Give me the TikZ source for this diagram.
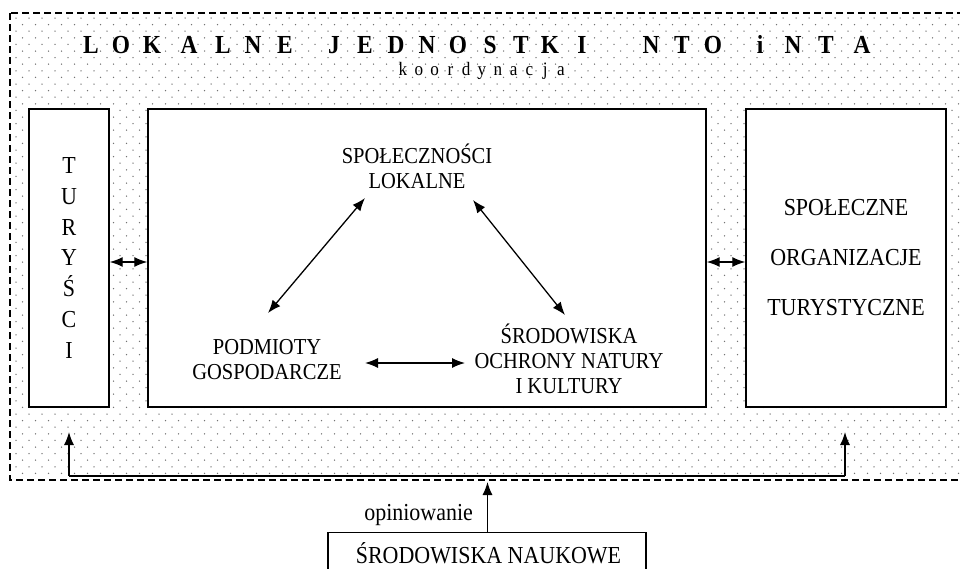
\documentclass[tikz,border=0pt]{standalone}
\usepackage{fontspec}
\setmainfont{Liberation Serif}
\newfontfamily\tallfont[FakeStretch=0.9]{Liberation Serif}
\usetikzlibrary{arrows.meta}
\begin{document}
\begin{tikzpicture}[x=1pt,y=-1pt,
  box/.style={draw,line width=1.4pt,fill=white},
  txt/.style={font=\tallfont\fontsize{24.4}{30}\selectfont,align=center,inner sep=0pt},
  tri/.style={font=\tallfont\fontsize{22.8}{25}\selectfont,align=center,inner sep=0pt},
  ttl/.style={font=\tallfont\fontsize{26}{26}\selectfont\bfseries,anchor=base,inner sep=0pt},
  sub/.style={font=\tallfont\fontsize{19}{19}\selectfont,anchor=base,inner sep=0pt},
  arr/.style={line width=1.3pt,-{Latex[length=13pt,width=10pt]}},
  darr/.style={line width=1.3pt,{Latex[length=13pt,width=10pt]}-{Latex[length=13pt,width=10pt]}},
]
\clip (0,0) rectangle (960,568);
% dotted background (staggered grid)
\foreach \j in {0,...,34}{
  \fill[black!55] \foreach \i in {0,...,72}{(16+13*\i,18+13.2*\j) circle (0.75)};
  \fill[black!55] \foreach \i in {0,...,72}{(22.5+13*\i,24.6+13.2*\j) circle (0.75)};
}
% dashed frame
\draw[line width=1.3pt,dash pattern=on 7pt off 4pt] (10,13) rectangle (966,480);
% title
\foreach \x/\c [count=\k] in {91/L,121/O,152/K,189/A,223/L,253/N,285/E,334/J,365/E,396/D,427/N,458/O,490/S,521/T,550/K,582/I,651/N,682/T,713/O,760/i,793/N,826/T,862/A}
  \node[ttl] (t\k) at (\x,53) {\c};
\foreach \x/\c [count=\k] in {403/k,418.8/o,434.6/o,450.4/r,466.2/d,482/y,497.8/n,513.6/a,529.4/c,545.2/j,561/a}
  \node[sub] (k\k) at (\x,75) {\c};
% boxes
\node[box,txt,minimum width=80pt,minimum height=298pt,font=\tallfont\fontsize{24.4}{30.7}\selectfont] (tur) at (69,258) {T\\U\\R\\Y\\Ś\\C\\I};
\node[box,minimum width=558pt,minimum height=298pt] (cen) at (427,258) {};
\node[box,txt,minimum width=200pt,minimum height=298pt,font=\tallfont\fontsize{24.4}{50}\selectfont] (rgt) at (846,258) {SPOŁECZNE\\ORGANIZACJE\\TURYSTYCZNE};
% triangle
\node[tri] (spo) at (417,166) {SPOŁECZNOŚCI\\LOKALNE};
\node[tri] (pod) at (267,360) {PODMIOTY\\GOSPODARCZE};
\node[tri] (sro) at (569,359) {ŚRODOWISKA\\OCHRONY NATURY\\I KULTURY};
\coordinate (a1) at (365,198); \coordinate (b1) at (268,313);
\coordinate (a2) at (473,200); \coordinate (b2) at (565,315);
\coordinate (a3) at (365,363); \coordinate (b3) at (465,363);
\draw[darr] (a1) -- (b1);
\draw[darr] (a2) -- (b2);
\draw[darr] (a3) -- (b3);
% side arrows
\coordinate (ly) at (0,262);
\draw[darr] (tur.east |- ly) -- (cen.west |- ly);
\draw[darr] (cen.east |- ly) -- (rgt.west |- ly);
% bottom
\coordinate (bl) at (69,476); \coordinate (br) at (845,476);
\coordinate (tl) at (69,432); \coordinate (tr) at (845,432);
\coordinate (bm) at (487.5,482);
\draw[line width=1.3pt] (bl) -- (br);
\draw[arr] (bl) -- (tl);
\draw[arr] (br) -- (tr);
\coordinate (nsw) at (328,575); \coordinate (nnw) at (328,532.5);
\coordinate (nne) at (646,532.5); \coordinate (nse) at (646,575);
\coordinate (nt) at (487.5,532.5);
\fill[white] (nsw) rectangle (nne);
\draw[line width=1.4pt] (nsw) -- (nnw) -- (nne) -- (nse);
\node[txt,anchor=base] (nau) at (488.5,563) {ŚRODOWISKA NAUKOWE};
\draw[arr] (nt) -- (bm) node[pos=0.34,anchor=east,xshift=-14pt,inner sep=0pt,font=\tallfont\fontsize{24.4}{30}\selectfont] (op) {opiniowanie};
\end{tikzpicture}
\end{document}
